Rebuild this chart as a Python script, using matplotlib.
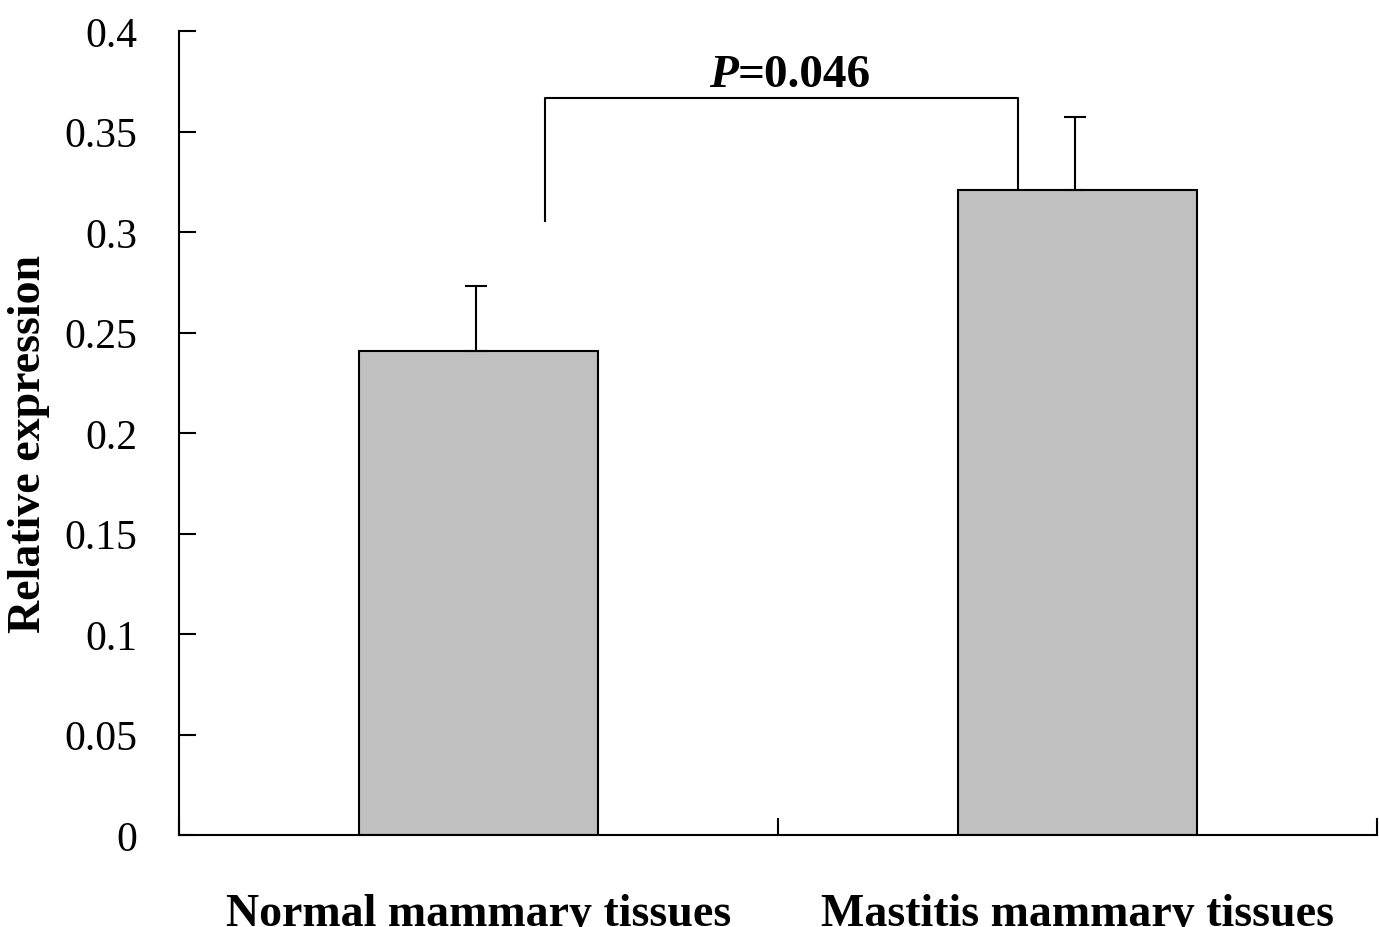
import matplotlib
matplotlib.use('Agg')
import matplotlib.pyplot as plt
import numpy as np

categorias = ['Normal mammary tissues', 'Mastitis mammary tissues']
expresion = [0.241, 0.321]
error_sup = [0.032, 0.036]
y_ticks = [0, 0.05, 0.1, 0.15, 0.2, 0.25, 0.3, 0.35, 0.4]
y_labels = ['0', '0.05', '0.1', '0.15', '0.2', '0.25', '0.3', '0.35', '0.4']
# corchete: x izq, x der, y izq, y der, y arriba
brk_x = [0.111, 0.901]
brk_y = [0.3055, 0.3214, 0.3667]

plt.rcParams['font.family'] = ['Liberation Serif', 'DejaVu Serif']

fig = plt.figure(figsize=(13.79, 9.28), dpi=100)
ax = fig.add_axes([0.1298, 0.0991, 0.8688, 0.8664])

x = np.arange(len(categorias))
ax.bar(x, expresion, width=0.40, color='#c0c0c0', edgecolor='black', linewidth=1.5, zorder=2)
ax.errorbar(x - 0.005, expresion, yerr=[[0, 0], error_sup], fmt='none', ecolor='black',
            elinewidth=1.5, capsize=8, capthick=1.5, zorder=3)

# corchete de significancia
ax.plot([brk_x[0], brk_x[0], brk_x[1], brk_x[1]],
        [brk_y[0], brk_y[2], brk_y[2], brk_y[1]], color='black', linewidth=1.5)
ax.text(0.433, 0.3728, 'P', fontsize=34, fontweight='bold', fontstyle='italic',
        ha='right', va='baseline')
ax.text(0.433, 0.3728, '=0.046', fontsize=34, fontweight='bold', ha='left', va='baseline')

ax.set_xlim(-0.5, 1.5)
ax.set_ylim(0, 0.4)
ax.set_yticks(y_ticks)
ax.set_yticklabels(y_labels, fontsize=30)
ax.set_xticks([-0.5, 0.5, 1.5])
ax.set_xticklabels([])
ax.set_xticks(x, minor=True)
ax.set_xticklabels(categorias, minor=True, fontsize=33, fontweight='bold')
ax.tick_params(axis='x', which='minor', length=0, pad=42)
ax.tick_params(axis='x', which='major', direction='in', length=12, width=1.5)
ax.tick_params(axis='y', direction='in', length=12, width=1.5, pad=30)
ax.set_ylabel('Relative expression', fontsize=33, fontweight='bold')
ax.yaxis.set_label_coords(-0.108, 0.4876)

for s in ['top', 'right']:
    ax.spines[s].set_visible(False)
for s in ['left', 'bottom']:
    ax.spines[s].set_linewidth(1.5)

fig.savefig('out.png', dpi=100)
